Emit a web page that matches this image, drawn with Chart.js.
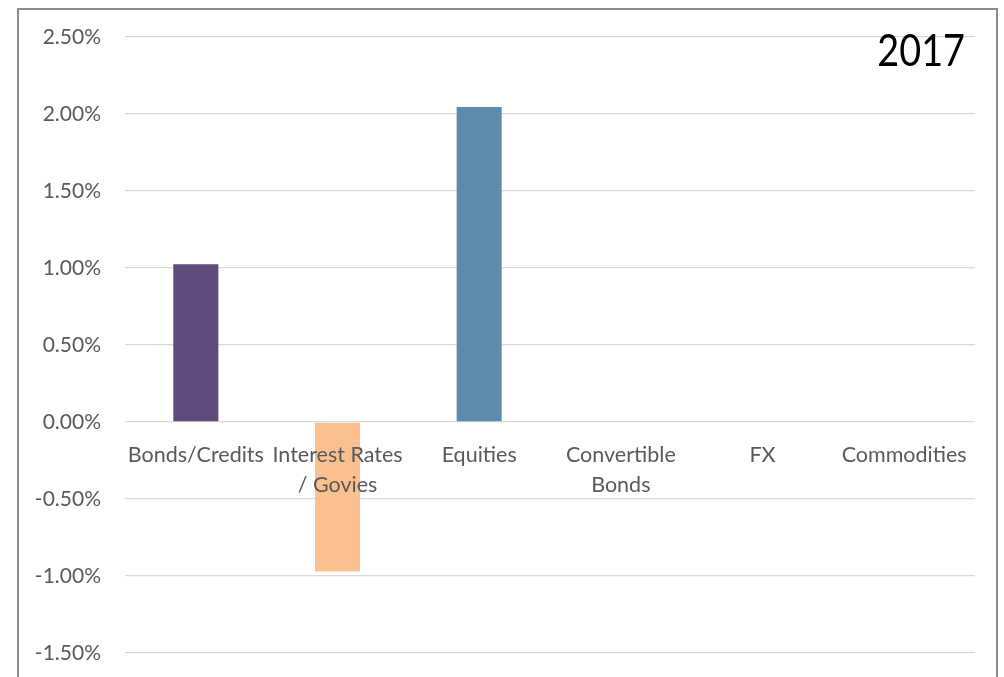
<!DOCTYPE html>
<html>
<head>
<meta charset="utf-8">
<script src="https://cdn.jsdelivr.net/npm/chart.js@4"></script>
<style>
  html, body { margin: 0; padding: 0; background: #fff; }
  #wrap { position: relative; width: 1004px; height: 677px; overflow: hidden; background: #fff; }
  #frame { position: absolute; left: 17px; top: 8px; width: 981px; height: 720px; border: 2px solid #8c8c8c; box-sizing: border-box; }
  #cv { position: absolute; left: 0; top: 0; }
</style>
</head>
<body>
<div id="wrap">
  <div id="frame"></div>
  <canvas id="cv" width="1004" height="700"></canvas>
</div>
<script>
const categories = ["Bonds/Credits", ["Interest Rates", "/ Govies"], "Equities", ["Convertible", "Bonds"], "FX", "Commodities"];
const values = [1.025, -0.97, 2.045, 0, 0, 0];
const barColors = ["#604a7b", "#fac090", "#5e8bab", "#9bbb59", "#8064a2", "#4bacc6"];
const yTicks = [-1.5, -1.0, -0.5, 0, 0.5, 1.0, 1.5, 2.0, 2.5];
const titleText = "2017";

const FONT = "Lato";

const yearPlugin = {
  id: "yearLabel",
  afterDraw(chart) {
    const ctx = chart.ctx;
    const area = chart.chartArea;
    ctx.save();
    ctx.font = "45px " + FONT;
    ctx.fillStyle = "#000";
    ctx.textAlign = "right";
    ctx.textBaseline = "alphabetic";
    const x = area.right - 10;
    ctx.translate(x, 66);
    ctx.scale(0.84, 1);
    ctx.fillText(titleText, 0, 0);
    ctx.restore();
  }
};

new Chart(document.getElementById("cv"), {
  type: "bar",
  data: {
    labels: categories,
    datasets: [{
      data: values,
      backgroundColor: barColors,
      borderWidth: 0,
      barPercentage: 0.318,
      categoryPercentage: 1.0
    }]
  },
  options: {
    responsive: false,
    animation: false,
    events: [],
    layout: { padding: { left: 0, right: 29, top: 37, bottom: 47 } },
    plugins: { legend: { display: false }, tooltip: { enabled: false }, title: { display: false } },
    scales: {
      x: {
        position: { y: 0 },
        grid: { display: false, drawTicks: false },
        border: { display: false },
        ticks: {
          z: 1,
          color: "#595959",
          font: { family: FONT, size: 21.5, lineHeight: 1.4 },
          padding: 18,
          maxRotation: 0,
          autoSkip: false
        }
      },
      y: {
        min: -1.5,
        max: 2.5,
        afterFit: (s) => { s.width = 125; },
        afterBuildTicks: (s) => { s.ticks = yTicks.map(v => ({ value: v })); },
        grid: { color: "#d9d9d9", lineWidth: 1.3, drawTicks: false },
        border: { display: false },
        ticks: {
          color: "#595959",
          font: { family: FONT, size: 21 },
          padding: 24,
          callback: (v) => v.toFixed(2) + "%"
        }
      }
    }
  },
  plugins: [yearPlugin]
});
</script>
</body>
</html>
